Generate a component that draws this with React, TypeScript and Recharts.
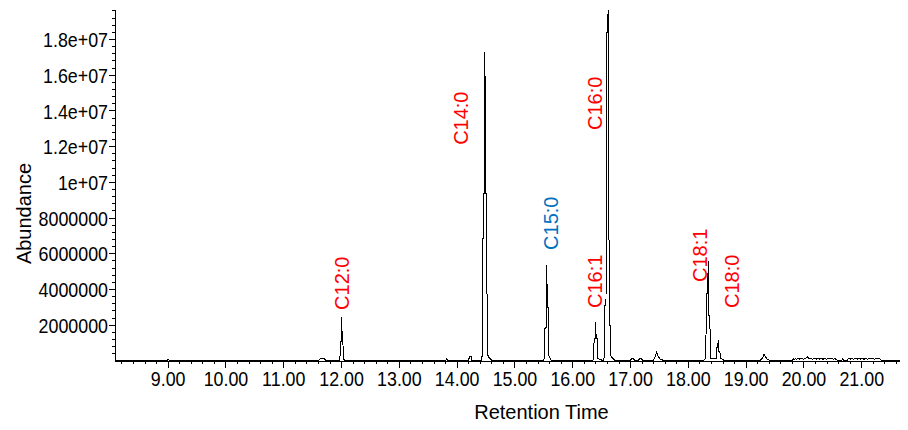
import React from 'react';
import { ComposedChart, Line, Scatter, XAxis, YAxis } from 'recharts';

const SANS = '"Liberation Sans", Arial, sans-serif';
const NARROW_SCALE = 0.85;

const M = 1000000;

// axis ticks
const xMajorTicks = [9, 10, 11, 12, 13, 14, 15, 16, 17, 18, 19, 20, 21];
const xMinorTicks = Array.from({ length: 69 }, (_, k) => Math.round((8.2 + 0.2 * k) * 10) / 10);
const yMajorTicks = [2, 4, 6, 8, 10, 12, 14, 16, 18].map((v) => v * M);
const yMajorLabels = ['2000000', '4000000', '6000000', '8000000', '1e+07', '1.2e+07', '1.4e+07', '1.6e+07', '1.8e+07'];
const yMinorTicks = Array.from({ length: 49 }, (_, k) => (k + 1) * 400000);

// chromatogram segments: [retention time (min), abundance (millions)]
const baselineStart: [number, number][] = [[8.08, 0.04], [8.98, 0.04], [9.0, 0.09], [9.02, 0.04], [11.6, 0.04], [11.65, 0.15], [11.7, 0.12], [11.73, 0.04]];
const peakC12: [number, number][] = [[11.97, 0.04], [11.985, 1.1], [11.995, 1.1], [12.0, 2.45], [12.008, 1.65], [12.02, 1.65], [12.03, 0.1], [12.06, 0.04]];
const minorA: [number, number][] = [[13.8, 0.04], [13.82, 0.12], [13.84, 0.04], [14.2, 0.04], [14.21, 0.25], [14.24, 0.25], [14.25, 0.04]];
const peakC14: [number, number][] = [[14.42, 0.05], [14.44, 0.45], [14.45, 9.35], [14.47, 9.35], [14.48, 17.3], [14.49, 9.35], [14.51, 9.35], [14.52, 0.4], [14.55, 0.2], [14.58, 0.1], [14.6, 0.04]];
const peakC15: [number, number][] = [[15.49, 0.04], [15.515, 0.2], [15.52, 1.85], [15.54, 1.85], [15.55, 5.38], [15.56, 3.0], [15.575, 3.0], [15.585, 0.3], [15.61, 0.15], [15.63, 0.04]];
const peakC161: [number, number][] = [[16.34, 0.04], [16.36, 0.1], [16.37, 1.27], [16.385, 1.27], [16.395, 2.2], [16.405, 1.27], [16.42, 1.27], [16.43, 0.12], [16.47, 0.1], [16.5, 0.05]];
const peakC160: [number, number][] = [[16.53, 0.05], [16.55, 0.3], [16.555, 3.1], [16.575, 3.1], [16.585, 18.4], [16.6, 18.4], [16.612, 19.65], [16.62, 18.4], [16.63, 2.0], [16.645, 2.0], [16.655, 0.3], [16.68, 0.2], [16.72, 0.05]];
const minorB: [number, number][] = [[17.0, 0.05], [17.02, 0.15], [17.05, 0.12], [17.07, 0.05], [17.14, 0.05], [17.16, 0.14], [17.19, 0.12], [17.21, 0.05], [17.4, 0.05], [17.43, 0.3], [17.45, 0.48], [17.48, 0.25], [17.52, 0.08], [17.56, 0.05]];
const peakC181: [number, number][] = [[18.27, 0.05], [18.3, 0.18], [18.315, 3.8], [18.335, 3.8], [18.343, 5.62], [18.35, 2.52], [18.37, 2.52], [18.385, 0.15], [18.47, 0.15]];
const peakC180: [number, number][] = [[18.485, 0.15], [18.49, 0.77], [18.51, 0.77], [18.515, 1.17], [18.53, 0.52], [18.545, 0.52], [18.555, 0.15], [18.58, 0.12], [18.61, 0.05]];
const tailNoise: [number, number][] = [
  [19.25, 0.05], [19.29, 0.2], [19.31, 0.37], [19.34, 0.2], [19.37, 0.08], [19.4, 0.05],
  [19.8, 0.05], [19.81, 0.13], [19.83, 0.08], [19.85, 0.14], [19.87, 0.09], [19.9, 0.15], [19.93, 0.1], [19.96, 0.14], [19.99, 0.1], [20.02, 0.15], [20.06, 0.22], [20.09, 0.12], [20.12, 0.15], [20.15, 0.1], [20.18, 0.14], [20.21, 0.1], [20.24, 0.15], [20.27, 0.11], [20.3, 0.14], [20.33, 0.1], [20.36, 0.15], [20.39, 0.1], [20.42, 0.14], [20.45, 0.11], [20.48, 0.14], [20.51, 0.1], [20.54, 0.13], [20.57, 0.05],
  [20.66, 0.05], [20.67, 0.12], [20.68, 0.05],
  [20.75, 0.05], [20.77, 0.14], [20.8, 0.1], [20.83, 0.15], [20.86, 0.1], [20.89, 0.14], [20.92, 0.1], [20.95, 0.15], [20.98, 0.11], [21.01, 0.14], [21.04, 0.1], [21.07, 0.15], [21.1, 0.1], [21.13, 0.14], [21.16, 0.11], [21.19, 0.14], [21.22, 0.1], [21.25, 0.14], [21.28, 0.11], [21.31, 0.13], [21.33, 0.05],
  [21.8, 0.04],
];

const trace = [
  ...baselineStart, ...peakC12, ...minorA, ...peakC14, ...peakC15, ...peakC161,
  ...peakC160, ...minorB, ...peakC181, ...peakC180, ...tailNoise,
].map(([t, v]) => ({ t, v: v * M }));

// peak annotations (anchor at the start of the rotated text)
const peakNames = ['C12:0', 'C14:0', 'C15:0', 'C16:1', 'C16:0', 'C18:1', 'C18:0'];
const peakLabelTimes = [12.005, 14.06, 15.62, 16.38, 16.38, 18.2, 18.75];
const peakLabelLevels = [2.86, 12.1, 6.22, 2.97, 12.93, 4.42, 2.97];
const peakColors = ['#ff0000', '#ff0000', '#0070c0', '#ff0000', '#ff0000', '#ff0000', '#ff0000'];
const peakLabels = peakNames.map((name, i) => ({ name, t: peakLabelTimes[i], v: peakLabelLevels[i] * M, color: peakColors[i] }));

const XTick = (props: any) => {
  const { x, y, payload } = props;
  const major = xMajorTicks.some((m) => Math.abs(m - payload.value) < 1e-6);
  return (
    <g>
      <line x1={x} x2={x} y1={y} y2={y + (major ? 7 : 3)} stroke="#000" strokeWidth={1} shapeRendering="crispEdges" />
      {major && (
        <text transform={`translate(${x} ${y + 25}) scale(${NARROW_SCALE} 1)`} textAnchor="middle" fontFamily={SANS} fontSize={21} fill="#000">
          {payload.value.toFixed(2)}
        </text>
      )}
    </g>
  );
};

const YTick = (props: any) => {
  const { x, y, payload } = props;
  const idx = yMajorTicks.findIndex((m) => Math.abs(m - payload.value) < 1);
  const major = idx >= 0;
  return (
    <g>
      <line x1={x - (major ? 6 : 3)} x2={x} y1={y} y2={y} stroke="#000" strokeWidth={1} shapeRendering="crispEdges" />
      {major && (
        <text transform={`translate(${x - 7} ${y}) scale(${NARROW_SCALE} 1)`} dy="0.36em" textAnchor="end" fontFamily={SANS} fontSize={21} fill="#000">
          {yMajorLabels[idx]}
        </text>
      )}
    </g>
  );
};

const YTitle = (props: any) => {
  const vb = props.viewBox || { x: 0, y: 2, width: 107, height: 351 };
  const cx = vb.x + 16;
  const cy = vb.y + vb.height / 2 + 28;
  return (
    <text x={cx} y={cy} transform={`rotate(-90 ${cx} ${cy})`} textAnchor="middle" dominantBaseline="central" fontFamily={SANS} fontSize={20} fill="#000">
      Abundance
    </text>
  );
};

const XTitle = (props: any) => {
  const vb = props.viewBox || { x: 107, y: 353, width: 793, height: 69 };
  const cx = vb.x + vb.width / 2 + 30;
  const cy = vb.y + 58;
  return (
    <text x={cx} y={cy} textAnchor="middle" fontFamily={SANS} fontSize={20} fill="#000">
      Retention Time
    </text>
  );
};

const PeakLabel = (props: any) => {
  const { cx, cy, payload } = props;
  return (
    <text x={cx} y={cy} transform={`rotate(-90 ${cx} ${cy})`} textAnchor="start" dominantBaseline="central" fontFamily={SANS} fontSize={20} fill={payload.color}>
      {payload.name}
    </text>
  );
};

export default function App() {
  const xTicks = Array.from(new Set([...xMinorTicks, ...xMajorTicks])).sort((a, b) => a - b);
  return (
    <ComposedChart width={900} height={422} margin={{ top: 2, right: 0, bottom: 0, left: 0 }}>
      <XAxis
        type="number"
        dataKey="t"
        domain={[8.08, 21.8]}
        ticks={xTicks}
        interval={0}
        tickSize={0}
        tickMargin={0}
        tick={<XTick />}
        tickLine={false}
        axisLine={{ stroke: '#000', strokeWidth: 1, shapeRendering: 'crispEdges' }}
        height={69}
        allowDataOverflow
        label={<XTitle />}
      />
      <YAxis
        type="number"
        domain={[0, 19.65 * M]}
        ticks={yMinorTicks}
        interval={0}
        tickSize={0}
        tickMargin={0}
        tick={<YTick />}
        tickLine={false}
        axisLine={{ stroke: '#000', strokeWidth: 1, shapeRendering: 'crispEdges' }}
        width={107}
        allowDataOverflow
        label={<YTitle />}
      />
      <Line data={trace} dataKey="v" type="linear" stroke="#000" strokeWidth={1} dot={false} isAnimationActive={false} shapeRendering="crispEdges" />
      <Scatter data={peakLabels} dataKey="v" shape={<PeakLabel />} isAnimationActive={false} />
    </ComposedChart>
  );
}
